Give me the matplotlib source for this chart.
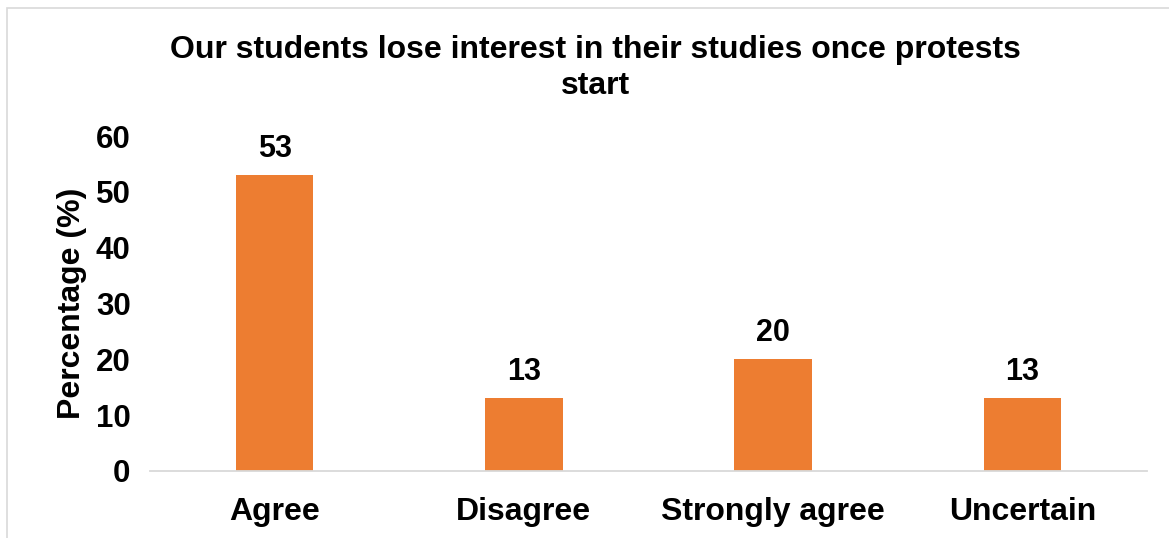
import matplotlib
matplotlib.use("Agg")
import matplotlib.pyplot as plt
from matplotlib.patches import Rectangle

categories = ["Agree", "Disagree", "Strongly agree", "Uncertain"]
percentages = [53, 13, 20, 13]
y_ticks = [0, 10, 20, 30, 40, 50, 60]
title = "Our students lose interest in their studies once protests\nstart"

plt.rcParams["font.family"] = ["Liberation Sans", "DejaVu Sans"]
plt.rcParams["font.weight"] = "bold"

W, H, DPI = 1169, 538, 100
fig = plt.figure(figsize=(W / DPI, H / DPI), dpi=DPI)

# light frame around the chart area
fig.patches.append(Rectangle((7 / W, -0.1), 1.2, (H - 8) / H + 0.1,
                             transform=fig.transFigure, fill=False,
                             edgecolor="#d9d9d9", linewidth=1.2))

left, right = 150 / W, 1147 / W
bottom, top = (H - 471) / H, (H - 136) / H
ax = fig.add_axes([left, bottom, right - left, top - bottom])

x = range(len(categories))
bars = ax.bar(x, percentages, width=0.31, color="#ED7D31", zorder=2)
for b, v in zip(bars, percentages):
    ax.text(b.get_x() + b.get_width() / 2, v + 2.0, f"{v}", ha="center",
            va="bottom", fontsize=22, fontweight="bold", color="black")

ax.set_xlim(-0.5, len(categories) - 0.5)
ax.set_ylim(0, 60)
ax.set_yticks(y_ticks)
ax.set_yticklabels([str(t) for t in y_ticks], fontsize=22.5, fontweight="bold")
ax.set_xticks(list(x))
ax.set_xticklabels(categories, fontsize=23, fontweight="bold")
ax.tick_params(axis="both", length=0)
ax.tick_params(axis="y", pad=14)
ax.tick_params(axis="x", pad=19)

for s in ["top", "right", "left"]:
    ax.spines[s].set_visible(False)
ax.spines["bottom"].set_color("#d9d9d9")
ax.spines["bottom"].set_linewidth(1.3)

ax.set_ylabel("Percentage (%)", fontsize=23, fontweight="bold", labelpad=6)

fig.text(595 / W, 1 - 68 / H, title, ha="center", va="center",
         fontsize=23, fontweight="bold", linespacing=1.25)

fig.savefig("out.png", dpi=DPI)
